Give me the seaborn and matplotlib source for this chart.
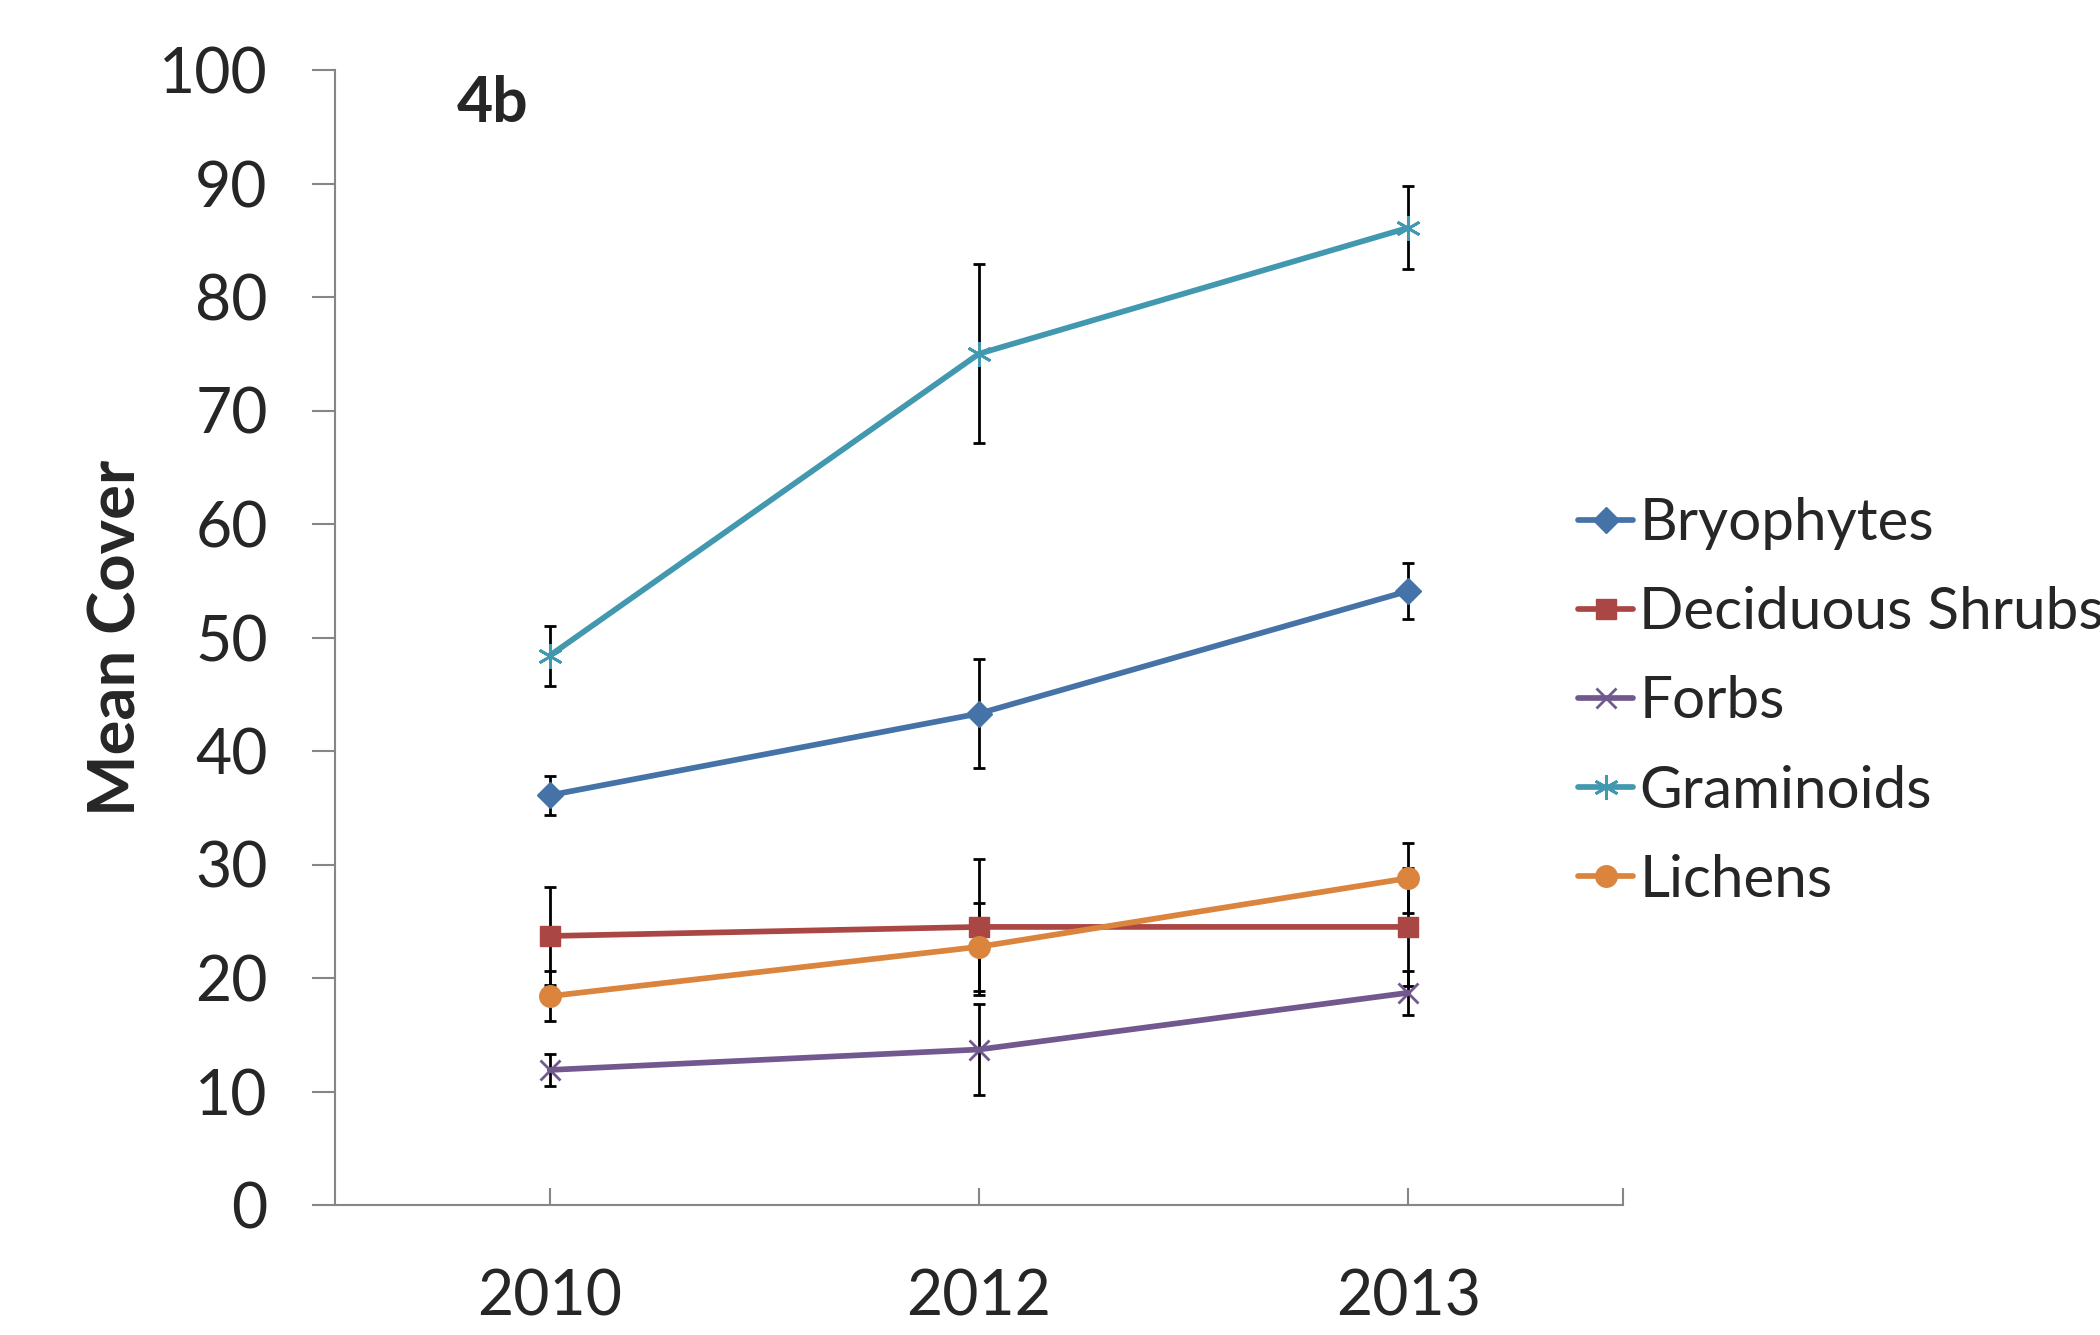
import matplotlib
matplotlib.use("Agg")
import matplotlib.pyplot as plt
import pandas as pd
import seaborn as sns

# Mean cover by functional group and survey year, with standard errors
years = ["2010", "2012", "2013"]
groups = ["Bryophytes", "Deciduous Shrubs", "Forbs", "Graminoids", "Lichens"]

bryophytes_mean = [36.1, 43.3, 54.1]
bryophytes_err = [1.7, 4.8, 2.5]
deciduous_mean = [23.7, 24.5, 24.5]
deciduous_err = [4.3, 6.0, 5.2]
forbs_mean = [11.9, 13.7, 18.7]
forbs_err = [1.4, 4.0, 1.95]
graminoids_mean = [48.4, 75.0, 86.1]
graminoids_err = [2.65, 7.9, 3.65]
lichens_mean = [18.4, 22.75, 28.8]
lichens_err = [2.2, 3.9, 3.1]

y_ticks = [0, 10, 20, 30, 40, 50, 60, 70, 80, 90, 100]
y_label = "Mean Cover"
panel_label = "4b"

means = [bryophytes_mean, deciduous_mean, forbs_mean, graminoids_mean, lichens_mean]
errs = [bryophytes_err, deciduous_err, forbs_err, graminoids_err, lichens_err]

colors = {
    "Bryophytes": "#4572A7",
    "Deciduous Shrubs": "#AA4643",
    "Forbs": "#71588F",
    "Graminoids": "#4198AF",
    "Lichens": "#DB843D",
}
markers = {
    "Bryophytes": ("D", 13, 1.0),
    "Deciduous Shrubs": ("s", 15, 1.0),
    "Forbs": ("x", 15, 2.0),
    "Graminoids": ((6, 2, 0), 18, 2.0),
    "Lichens": ("o", 15.5, 1.0),
}

df = pd.DataFrame(
    [
        {"group": g, "year": y, "mean": m, "err": e}
        for g, ms, es in zip(groups, means, errs)
        for y, m, e in zip(years, ms, es)
    ]
)

sns.set_style("white")
plt.rcParams["font.family"] = ["Lato", "DejaVu Sans"]

fig = plt.figure(figsize=(21, 13.35), dpi=100)
ax = fig.add_axes([335 / 2100, 1 - 1205 / 1335, 1288 / 2100, 1135 / 1335])

for g in groups:
    sub = df[df["group"] == g]
    ax.errorbar(
        sub["year"], sub["mean"], yerr=sub["err"], fmt="none",
        ecolor="black", elinewidth=2.0, capsize=4.5, capthick=2.0, zorder=1.5,
    )

for g in groups:
    sub = df[df["group"] == g]
    mk, msz, mew = markers[g]
    sns.lineplot(
        data=sub, x="year", y="mean", ax=ax, color=colors[g], label=g,
        linewidth=4.1, marker=mk, markersize=msz, markeredgecolor=colors[g],
        markerfacecolor=colors[g], markeredgewidth=mew, zorder=2, sort=False,
    )

ax.set_xlim(-0.5, 2.5)
ax.set_ylim(0, 100)
ax.set_yticks(y_ticks)
ax.set_xticks([0, 1, 2])
ax.set_xticklabels(years)
ax.set_xticks([2.5], minor=True)

ax.set_xlabel("")
ax.set_ylabel(y_label, fontsize=47, fontweight="bold")
ax.yaxis.set_label_coords(-0.146, 0.5)

spine_color = "#868686"
for side in ["top", "right"]:
    ax.spines[side].set_visible(False)
for side in ["left", "bottom"]:
    ax.spines[side].set_color(spine_color)
    ax.spines[side].set_linewidth(1.5)

ax.tick_params(axis="y", which="major", direction="out", length=16.5, width=1.5,
               color=spine_color, labelsize=45, pad=32, left=True)
ax.tick_params(axis="x", which="both", direction="in", length=12, width=1.5,
               color=spine_color, labelsize=45, pad=46, bottom=True)

ax.text(0.122, 0.97, panel_label, transform=ax.transAxes, fontsize=45,
        fontweight="bold", ha="center", va="center")

leg = ax.legend(
    loc="center left", bbox_to_anchor=(1578 / 2100, 1 - 702 / 1335),
    bbox_transform=fig.transFigure, frameon=False, fontsize=42,
    handlelength=0.95, handletextpad=0.1, labelspacing=0.62, borderaxespad=0,
    borderpad=0,
)

fig.savefig("out.png", dpi=100)
